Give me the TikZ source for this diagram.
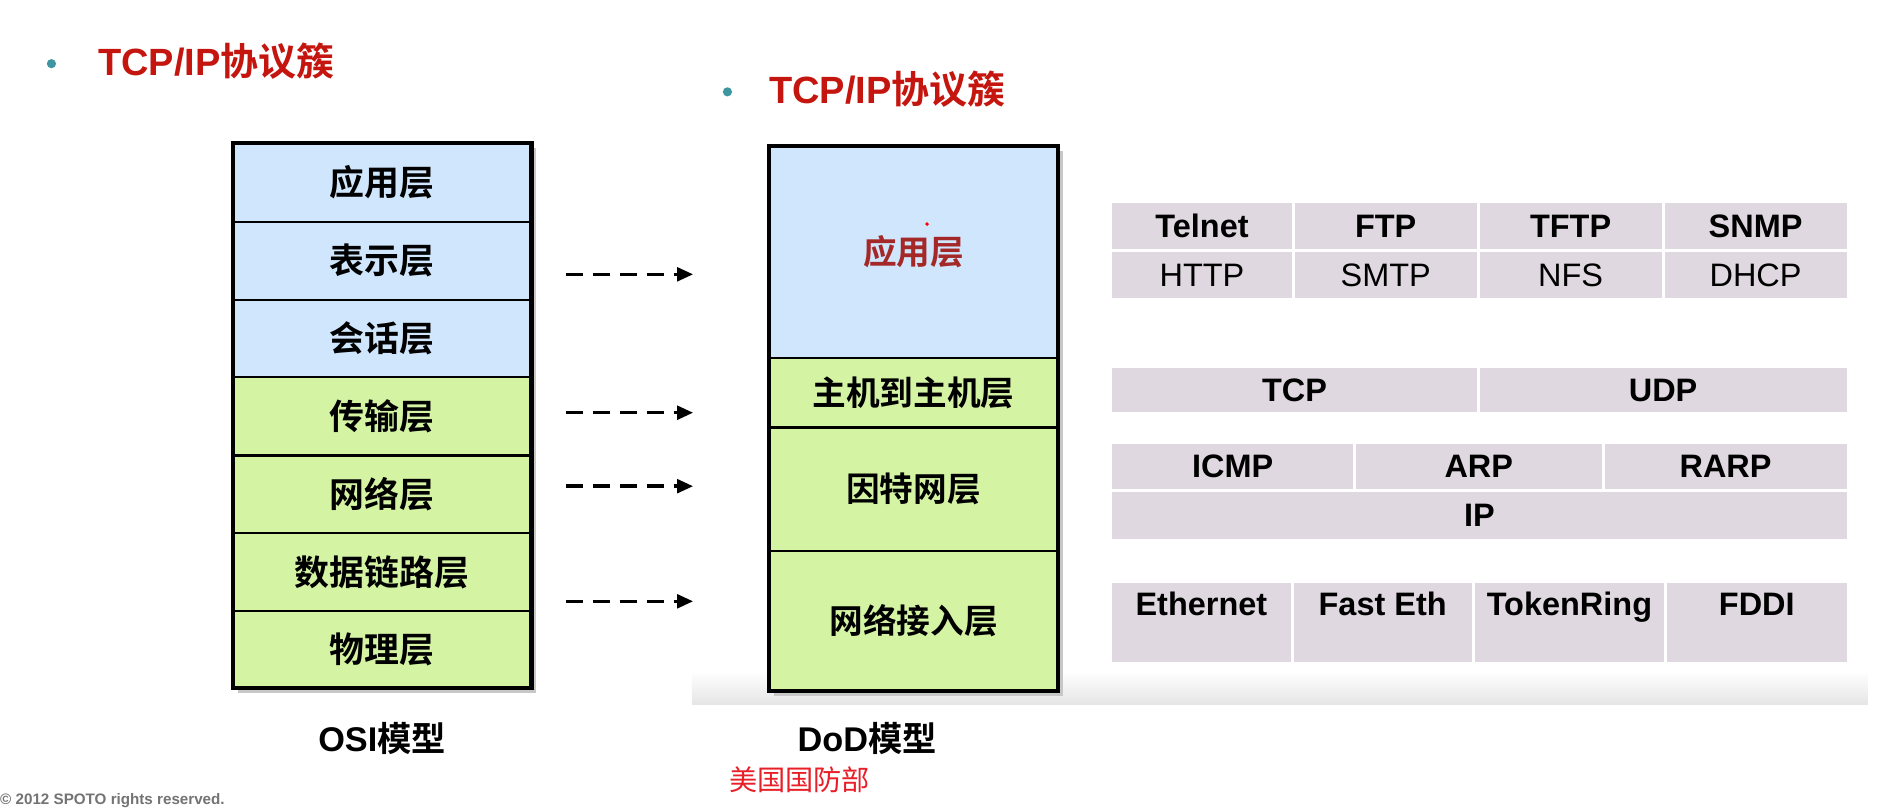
\documentclass[tikz,border=0pt]{standalone}
\usepackage{fontspec}
\setmainfont{Liberation Sans}
\newfontfamily\cjk{Noto Sans CJK SC}[BoldFont={Noto Sans CJK SC Bold}]
\usetikzlibrary{arrows.meta}
\definecolor{titlered}{RGB}{196,22,14}
\definecolor{bulletteal}{RGB}{62,150,160}
\definecolor{lblue}{RGB}{207,230,252}
\definecolor{lgreen}{RGB}{212,244,164}
\definecolor{dodred}{RGB}{165,40,40}
\definecolor{tabfill}{RGB}{223,216,224}
\definecolor{usred}{RGB}{232,30,40}
\definecolor{cgray}{RGB}{115,115,115}
\begin{document}
\begin{tikzpicture}[x=1pt,y=1pt,
  osi/.style={draw=black, line width=1.8pt, minimum width=244pt, inner sep=0pt, outer sep=0pt, font=\cjk\bfseries\fontsize{28.5}{28.5}\selectfont},
  dod/.style={draw=black, line width=1.8pt, minimum width=236pt, inner sep=0pt, outer sep=0pt, font=\cjk\bfseries\fontsize{27.5}{27.5}\selectfont},
  tcell/.style={fill=tabfill, draw=white, line width=2.5pt, inner sep=0pt, outer sep=0pt, font=\bfseries\fontsize{26.5}{26.5}\selectfont},
  tcellr/.style={tcell, font=\fontsize{26.5}{26.5}\selectfont},
  ecell/.style={tcell, minimum height=67pt, text height=19pt, text depth=31pt},
  dasharrow/.style={line width=2.8pt, dash pattern=on 14pt off 8pt, -{Triangle[length=13pt,width=11pt]}},
  bullet/.style={circle, fill=bulletteal, inner sep=0pt, minimum size=7.5pt},
  title/.style={anchor=west, inner sep=0pt, text=titlered, font=\bfseries\fontsize{31}{31}\selectfont},
  caption/.style={inner sep=0pt, font=\bfseries\fontsize{28}{28}\selectfont},
]
\useasboundingbox (0,0) rectangle (1549,-660.6);
\fill[white] (0,0) rectangle (1549,-660.6);

% faint band at bottom of slide area
\shade[top color=white, bottom color=black!10] (565,-548) rectangle (1525,-575);

% titles
\node[bullet] (b1) at (42,-52) {};
\node[title] (t1) at (80,-50) {TCP/IP{\cjk 协议簇}};
\node[bullet] (b2) at (594,-75) {};
\node[title] (t2) at (628,-73) {TCP/IP{\cjk 协议簇}};

% shadows
\fill[black!22] (194,-121) rectangle (438,-566);
\fill[black!22] (632,-123) rectangle (868,-568);

% OSI model
\node[osi, fill=lblue, minimum height=64pt] (o1) at (312,-149) {应用层};
\node[osi, fill=lblue, minimum height=64pt] (o2) at (312,-213) {表示层};
\node[osi, fill=lblue, minimum height=63pt] (o3) at (312,-276.5) {会话层};
\node[osi, fill=lgreen, minimum height=64pt] (o4) at (312,-340) {传输层};
\node[osi, fill=lgreen, minimum height=63pt] (o5) at (312,-403.5) {网络层};
\node[osi, fill=lgreen, minimum height=64pt] (o6) at (312,-467) {数据链路层};
\node[osi, fill=lgreen, minimum height=63pt] (o7) at (312,-530.5) {物理层};
\draw[line width=3.5pt] (o1.north west) rectangle (o7.south east);

% DoD model
\node[dod, fill=lblue, minimum height=173pt, text=dodred] (d1) at (746,-205.5) {应用层};
\node[dod, fill=lgreen, minimum height=57pt] (d2) at (746,-320.5) {主机到主机层};
\node[dod, fill=lgreen, minimum height=101pt] (d3) at (746,-399.5) {因特网层};
\node[dod, fill=lgreen, minimum height=114pt] (d4) at (746,-507) {网络接入层};
\draw[line width=3.5pt] (d1.north west) rectangle (d4.south east);
\fill[red] (757,-183) circle (1.6pt);

% arrows
\coordinate (a1s) at (462,-224); \coordinate (a1e) at (566,-224);
\coordinate (a2s) at (462,-337); \coordinate (a2e) at (566,-337);
\coordinate (a3s) at (462,-397); \coordinate (a3e) at (566,-397);
\coordinate (a4s) at (462,-491); \coordinate (a4e) at (566,-491);
\draw[dasharrow] (a1s) -- (a1e);
\draw[dasharrow] (a2s) -- (a2e);
\draw[dasharrow] (a3s) -- (a3e);
\draw[dasharrow] (a4s) -- (a4e);

% application protocols
\node[tcell, minimum width=149pt, minimum height=40pt] (p11) at (981.5,-184.5) {Telnet};
\node[tcell, minimum width=151pt, minimum height=40pt] (p12) at (1131.5,-184.5) {FTP};
\node[tcell, minimum width=151pt, minimum height=40pt] (p13) at (1282.5,-184.5) {TFTP};
\node[tcell, minimum width=151pt, minimum height=40pt] (p14) at (1433.5,-184.5) {SNMP};
\node[tcellr, minimum width=149pt, minimum height=40pt] (p21) at (981.5,-224.5) {HTTP};
\node[tcellr, minimum width=151pt, minimum height=40pt] (p22) at (1131.5,-224.5) {SMTP};
\node[tcellr, minimum width=151pt, minimum height=40pt] (p23) at (1282.5,-224.5) {NFS};
\node[tcellr, minimum width=151pt, minimum height=40pt] (p24) at (1433.5,-224.5) {DHCP};

% transport
\node[tcell, minimum width=300pt, minimum height=38pt] (tcp) at (1057,-318.5) {TCP};
\node[tcell, minimum width=302pt, minimum height=38pt] (udp) at (1358,-318.5) {UDP};

% internet
\node[tcell, minimum width=199pt, minimum height=40pt] (icmp) at (1006.5,-381) {ICMP};
\node[tcell, minimum width=203pt, minimum height=40pt] (arp) at (1207.5,-381) {ARP};
\node[tcell, minimum width=200pt, minimum height=40pt] (rarp) at (1409,-381) {RARP};
\node[tcell, minimum width=602pt, minimum height=41pt] (ip) at (1208,-421) {IP};

% network access
\node[ecell, minimum width=148pt] (e1) at (981,-508.5) {Ethernet};
\node[ecell, minimum width=148pt] (e2) at (1129,-508.5) {Fast Eth};
\node[ecell, minimum width=157pt] (e3) at (1281.5,-508.5) {TokenRing};
\node[ecell, minimum width=149pt] (e4) at (1434.5,-508.5) {FDDI};

% captions
\node[caption] (osil) at (312,-603) {OSI{\cjk 模型}};
\node[caption] (dodl) at (708,-603) {DoD{\cjk 模型}};
\node[inner sep=0pt, text=usred, font=\cjk\fontsize{23}{23}\selectfont] (us) at (653,-637) {美国国防部};
\node[anchor=west, inner sep=0pt, text=cgray, font=\bfseries\fontsize{12.4}{12.4}\selectfont] (cr) at (0,-654) {© 2012 SPOTO rights reserved.};
\end{tikzpicture}
\end{document}
